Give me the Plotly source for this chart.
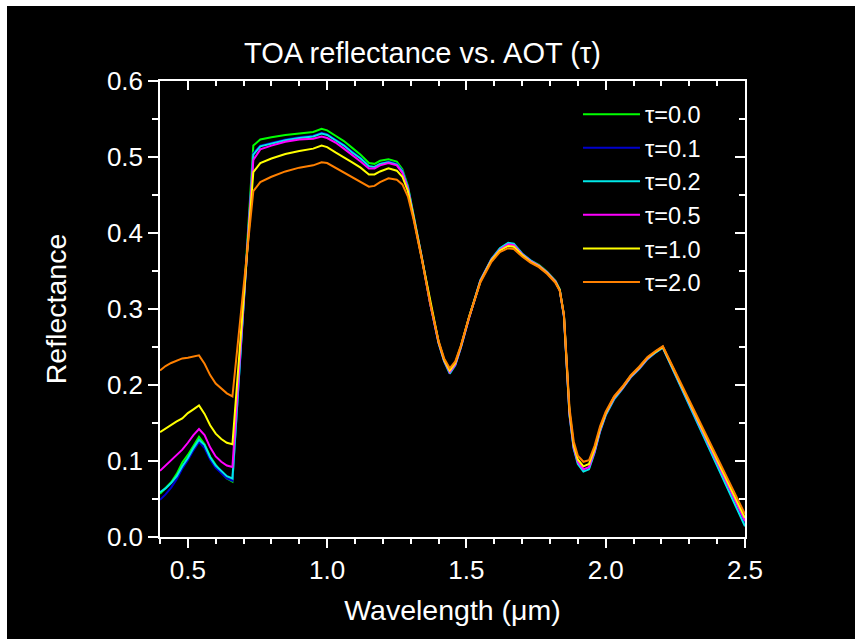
import plotly.graph_objects as go

wavelength = [0.40, 0.42, 0.44, 0.46, 0.48, 0.50, 0.52, 0.54, 0.56, 0.58, 0.60, 0.62, 0.64, 0.66,
              0.735, 0.76, 0.80, 0.85, 0.90, 0.95, 0.98, 1.00, 1.03, 1.06, 1.09, 1.12, 1.15, 1.17, 1.19, 1.22, 1.25,
              1.27, 1.29, 1.31, 1.34, 1.37, 1.40, 1.42, 1.44, 1.46, 1.48,
              1.51, 1.55, 1.59, 1.62, 1.65, 1.67, 1.70, 1.73, 1.76, 1.79,
              1.82, 1.835, 1.85, 1.86, 1.87, 1.885, 1.90, 1.92, 1.94, 1.96,
              1.98, 2.00, 2.03, 2.06, 2.09, 2.12, 2.15, 2.18, 2.205, 2.50]

refl_tau_00 = [0.057, 0.064, 0.072, 0.083, 0.098, 0.108, 0.121, 0.132, 0.122, 0.106, 0.095, 0.085, 0.077, 0.073,
               0.515, 0.523, 0.526, 0.529, 0.531, 0.533, 0.537, 0.535, 0.528, 0.521, 0.512, 0.503, 0.492, 0.491, 0.495, 0.497, 0.494,
               0.484, 0.462, 0.425, 0.368, 0.308, 0.257, 0.233, 0.218, 0.228, 0.250,
               0.290, 0.337, 0.365, 0.379, 0.386, 0.385, 0.372, 0.364, 0.358, 0.349,
               0.337, 0.326, 0.292, 0.228, 0.162, 0.118, 0.098, 0.088, 0.091, 0.113,
               0.141, 0.162, 0.183, 0.197, 0.212, 0.223, 0.236, 0.244, 0.250, 0.018]

refl_tau_01 = [0.049, 0.056, 0.065, 0.076, 0.090, 0.101, 0.114, 0.125, 0.117, 0.102, 0.091, 0.084, 0.077, 0.074,
               0.505, 0.515, 0.519, 0.523, 0.526, 0.528, 0.532, 0.530, 0.523, 0.516, 0.507, 0.499, 0.488, 0.487, 0.491, 0.494, 0.491,
               0.482, 0.460, 0.424, 0.367, 0.307, 0.256, 0.232, 0.217, 0.227, 0.249,
               0.289, 0.337, 0.365, 0.379, 0.386, 0.385, 0.372, 0.364, 0.357, 0.348,
               0.336, 0.325, 0.291, 0.227, 0.161, 0.117, 0.098, 0.089, 0.091, 0.112,
               0.140, 0.161, 0.182, 0.196, 0.211, 0.222, 0.235, 0.243, 0.249, 0.016]

refl_tau_02 = [0.059, 0.064, 0.071, 0.080, 0.093, 0.104, 0.117, 0.128, 0.121, 0.105, 0.094, 0.087, 0.080, 0.077,
               0.503, 0.514, 0.518, 0.522, 0.525, 0.527, 0.531, 0.529, 0.522, 0.515, 0.506, 0.498, 0.488, 0.487, 0.491, 0.493, 0.490,
               0.481, 0.460, 0.424, 0.367, 0.307, 0.255, 0.231, 0.215, 0.226, 0.249,
               0.289, 0.338, 0.366, 0.380, 0.387, 0.386, 0.373, 0.364, 0.357, 0.348,
               0.336, 0.325, 0.290, 0.226, 0.160, 0.116, 0.096, 0.086, 0.089, 0.111,
               0.139, 0.160, 0.181, 0.195, 0.210, 0.221, 0.234, 0.243, 0.249, 0.014]

refl_tau_05 = [0.087, 0.094, 0.101, 0.108, 0.115, 0.124, 0.134, 0.142, 0.134, 0.118, 0.106, 0.099, 0.094, 0.092,
               0.496, 0.510, 0.515, 0.520, 0.523, 0.524, 0.527, 0.525, 0.519, 0.511, 0.503, 0.494, 0.485, 0.485, 0.489, 0.492, 0.489,
               0.479, 0.458, 0.423, 0.367, 0.307, 0.256, 0.232, 0.217, 0.227, 0.250,
               0.289, 0.337, 0.365, 0.378, 0.385, 0.384, 0.372, 0.363, 0.357, 0.348,
               0.336, 0.325, 0.291, 0.227, 0.162, 0.118, 0.099, 0.089, 0.092, 0.113,
               0.141, 0.162, 0.183, 0.196, 0.211, 0.222, 0.235, 0.244, 0.250, 0.021]

refl_tau_10 = [0.138, 0.143, 0.148, 0.152, 0.156, 0.163, 0.168, 0.173, 0.162, 0.147, 0.136, 0.129, 0.124, 0.122,
               0.480, 0.492, 0.498, 0.504, 0.508, 0.511, 0.515, 0.513, 0.506, 0.500, 0.493, 0.486, 0.477, 0.477, 0.481, 0.485, 0.482,
               0.474, 0.455, 0.421, 0.366, 0.307, 0.257, 0.233, 0.219, 0.229, 0.251,
               0.290, 0.336, 0.364, 0.377, 0.383, 0.382, 0.371, 0.362, 0.356, 0.347,
               0.335, 0.325, 0.292, 0.229, 0.165, 0.121, 0.102, 0.093, 0.096, 0.116,
               0.143, 0.163, 0.184, 0.197, 0.212, 0.223, 0.236, 0.244, 0.250, 0.025]

refl_tau_20 = [0.219, 0.225, 0.229, 0.232, 0.235, 0.236, 0.238, 0.239, 0.228, 0.213, 0.202, 0.195, 0.189, 0.185,
               0.455, 0.467, 0.474, 0.481, 0.486, 0.489, 0.493, 0.492, 0.486, 0.480, 0.474, 0.468, 0.461, 0.462, 0.467, 0.472, 0.470,
               0.464, 0.448, 0.418, 0.365, 0.307, 0.258, 0.235, 0.222, 0.231, 0.252,
               0.290, 0.335, 0.362, 0.375, 0.380, 0.379, 0.369, 0.361, 0.355, 0.346,
               0.334, 0.324, 0.293, 0.232, 0.170, 0.126, 0.107, 0.099, 0.101, 0.120,
               0.146, 0.165, 0.185, 0.198, 0.213, 0.224, 0.237, 0.245, 0.251, 0.030]

series_names = ["τ=0.0", "τ=0.1", "τ=0.2", "τ=0.5", "τ=1.0", "τ=2.0"]
series_values = [refl_tau_00, refl_tau_01, refl_tau_02, refl_tau_05, refl_tau_10, refl_tau_20]
series_colors = ["#00ff00", "#0000cc", "#00e8e8", "#ff00ff", "#ffff00", "#ff8000"]

FONT = "Liberation Sans, Arial, sans-serif"

fig = go.Figure()
for name, vals, col in zip(series_names, series_values, series_colors):
    fig.add_trace(go.Scatter(x=wavelength, y=vals, mode="lines", name=name,
                             line=dict(color=col, width=2)))

# empty helper trace so the mirrored (top/right) axes are drawn
fig.add_trace(go.Scatter(x=[], y=[], xaxis="x2", yaxis="y2", showlegend=False, hoverinfo="skip"))

axis_common = dict(showgrid=False, zeroline=False, showline=True, linecolor="white", linewidth=1.5,
                   tickcolor="white", tickwidth=1.5)

fig.update_layout(
    width=848, height=633,
    paper_bgcolor="black", plot_bgcolor="black",
    margin=dict(l=153, r=110, t=75, b=102),
    font=dict(family=FONT, color="white", size=25),
    title=dict(text="TOA reflectance vs. AOT (τ)", x=0.49, xanchor="center",
               y=1 - 47 / 633, yanchor="middle", yref="container",
               font=dict(size=29, color="white", family=FONT)),
    xaxis=dict(range=[0.4, 2.5], tick0=0.5, dtick=0.5, tickformat=".1f", ticks="outside", ticklen=9,
               minor=dict(tick0=0.4, dtick=0.1, ticks="outside", ticklen=5, tickcolor="white", tickwidth=1.5),
               title=dict(text="Wavelength (μm)", font=dict(size=28.5), standoff=16),
               tickfont=dict(size=26), **axis_common),
    yaxis=dict(range=[0, 0.6], tick0=0, dtick=0.1, tickformat=".1f", ticks="outside", ticklen=10,
               minor=dict(dtick=0.05, ticks="outside", ticklen=6, tickcolor="white", tickwidth=1.5),
               title=dict(text="Reflectance", font=dict(size=28.5), standoff=32),
               tickfont=dict(size=26), **axis_common),
    xaxis2=dict(range=[0.4, 2.5], overlaying="x", side="top", anchor="y", tick0=0.5, dtick=0.5,
                ticks="inside", ticklen=9, showticklabels=False,
                minor=dict(tick0=0.4, dtick=0.1, ticks="inside", ticklen=5, tickcolor="white", tickwidth=1.5),
                **axis_common),
    yaxis2=dict(range=[0, 0.6], overlaying="y", side="right", anchor="x", tick0=0, dtick=0.1,
                ticks="inside", ticklen=10, showticklabels=False,
                minor=dict(dtick=0.05, ticks="inside", ticklen=6, tickcolor="white", tickwidth=1.5),
                **axis_common),
    legend=dict(x=0.7145, xanchor="left", y=0.975, yanchor="top", bgcolor="rgba(0,0,0,0)",
                font=dict(size=23.5, color="white", family=FONT), itemwidth=57,
                tracegroupgap=0),
    showlegend=True,
)

fig.write_html("out.html",
               post_script="document.body.style.margin='6px 0 0 7px';document.body.style.overflow='hidden';")
